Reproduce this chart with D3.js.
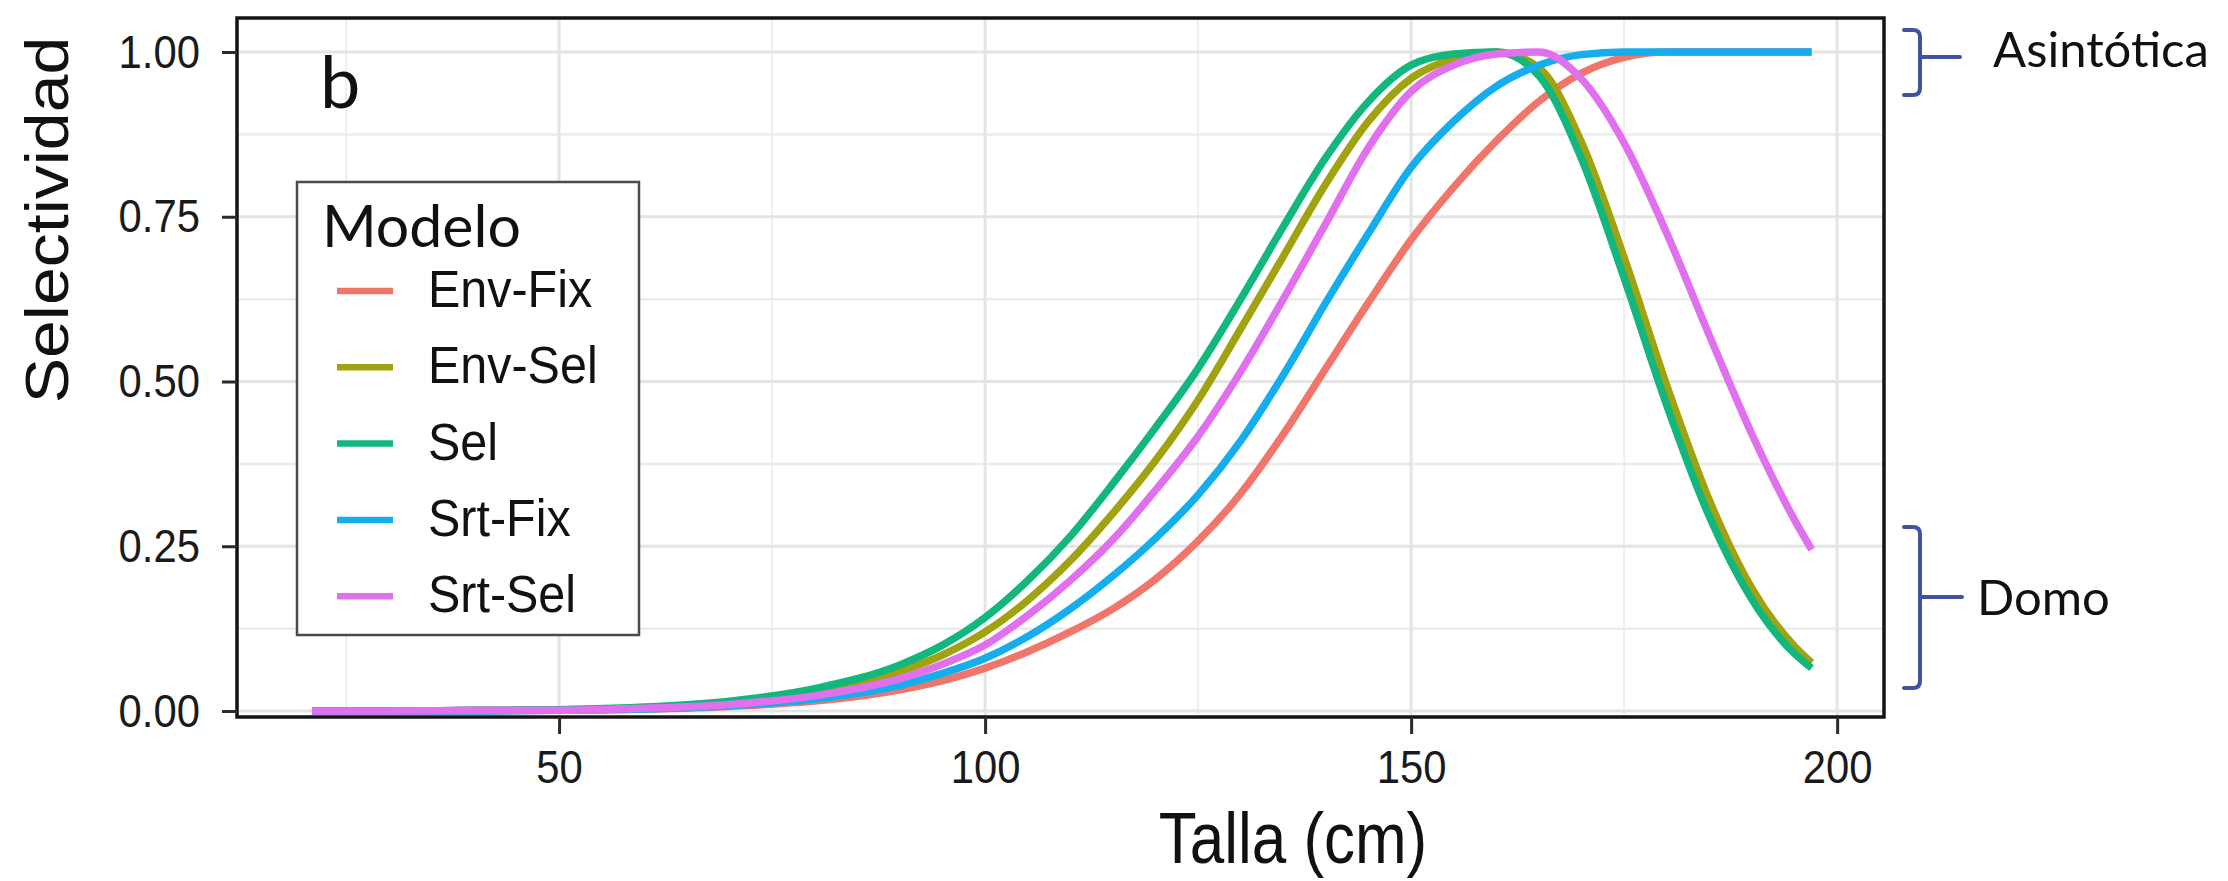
<!DOCTYPE html>
<html>
<head>
<meta charset="utf-8">
<script src="https://cdn.jsdelivr.net/npm/d3@7"></script>
<style>
  html, body { margin: 0; padding: 0; background: #ffffff; }
  svg { display: block; }
</style>
</head>
<body>
<svg id="chart" width="2228" height="881"></svg>
<script>
// Selectivity curves by length for five model variants (panel b)
const tallas = [21, 30, 40, 50, 60, 70, 80, 90, 95, 100, 105, 110, 115, 120, 125, 130,
                135, 140, 145, 150, 155, 160, 165, 170, 175, 180, 185, 190, 195, 197];

const envFix = [0, 0, 0, 0.001, 0.003, 0.007, 0.015, 0.032, 0.046, 0.065, 0.090, 0.120, 0.155, 0.200, 0.258, 0.330,
                0.420, 0.520, 0.620, 0.715, 0.795, 0.865, 0.925, 0.968, 0.992, 1, 1, 1, 1, 1];
const envSel = [0, 0, 0.001, 0.002, 0.005, 0.012, 0.028, 0.060, 0.085, 0.120, 0.168, 0.228, 0.300, 0.380, 0.472, 0.580,
                0.690, 0.800, 0.895, 0.960, 0.990, 1.000, 0.976, 0.863, 0.688, 0.494, 0.320, 0.186, 0.098, 0.073];
const sel    = [0, 0, 0.001, 0.002, 0.006, 0.015, 0.034, 0.070, 0.100, 0.142, 0.198, 0.265, 0.345, 0.430, 0.520, 0.625,
                0.735, 0.840, 0.925, 0.980, 0.997, 1.000, 0.964, 0.838, 0.657, 0.464, 0.295, 0.169, 0.087, 0.065];
const srtFix = [0, 0, 0, 0.001, 0.003, 0.008, 0.018, 0.039, 0.057, 0.080, 0.113, 0.155, 0.205, 0.262, 0.328, 0.410,
                0.510, 0.620, 0.725, 0.825, 0.895, 0.948, 0.980, 0.996, 1, 1, 1, 1, 1, 1];
const srtSel = [0, 0, 0.001, 0.001, 0.004, 0.010, 0.023, 0.049, 0.071, 0.100, 0.145, 0.198, 0.260, 0.335, 0.417, 0.515,
                0.625, 0.740, 0.855, 0.940, 0.980, 0.997, 1.000, 0.959, 0.862, 0.725, 0.570, 0.420, 0.290, 0.245];

const modelos = ["Env-Fix", "Env-Sel", "Sel", "Srt-Fix", "Srt-Sel"];
const colores = ["#F0766C", "#A0A210", "#12B77E", "#14AEEC", "#E070EE"];
const valores = [envFix, envSel, sel, srtFix, srtSel];

const xTicks = [50, 100, 150, 200];
const xMinor = [25, 75, 125, 175];
const yTicks = [0, 0.25, 0.5, 0.75, 1];
const yMinor = [0.125, 0.375, 0.625, 0.875];
const yTickLabels = ["0.00", "0.25", "0.50", "0.75", "1.00"];

const panel = { left: 237, right: 1884, top: 18, bottom: 717 };

const svg = d3.select("#chart");
svg.append("rect").attr("width", 2228).attr("height", 881).attr("fill", "#ffffff");

const x = d3.scaleLinear().domain([12.2, 205.5]).range([panel.left, panel.right]);
const y = d3.scaleLinear().domain([0, 1]).range([711, 52]);

// horizontal compression helper for text
function squeeze(selection, f) {
  selection.each(function () {
    const L = this.getComputedTextLength();
    this.setAttribute("textLength", L * f);
    this.setAttribute("lengthAdjust", "spacingAndGlyphs");
  });
}

// grid
const grid = svg.append("g");
grid.selectAll(".vminor").data(xMinor).join("line")
  .attr("x1", d => x(d)).attr("x2", d => x(d))
  .attr("y1", panel.top).attr("y2", panel.bottom)
  .attr("stroke", "#efefef").attr("stroke-width", 2);
grid.selectAll(".hminor").data(yMinor).join("line")
  .attr("x1", panel.left).attr("x2", panel.right)
  .attr("y1", d => y(d)).attr("y2", d => y(d))
  .attr("stroke", "#ebebeb").attr("stroke-width", 2.5);
grid.selectAll(".vmajor").data(xTicks).join("line")
  .attr("x1", d => x(d)).attr("x2", d => x(d))
  .attr("y1", panel.top).attr("y2", panel.bottom)
  .attr("stroke", "#e4e4e4").attr("stroke-width", 3);
grid.selectAll(".hmajor").data(yTicks).join("line")
  .attr("x1", panel.left).attr("x2", panel.right)
  .attr("y1", d => y(d)).attr("y2", d => y(d))
  .attr("stroke", "#e4e4e4").attr("stroke-width", 3);

// curves
svg.append("clipPath").attr("id", "panelClip").append("rect")
  .attr("x", panel.left).attr("y", panel.top)
  .attr("width", panel.right - panel.left).attr("height", panel.bottom - panel.top);

const line = d3.line()
  .x(d => x(d[0]))
  .y(d => y(d[1]))
  .curve(d3.curveMonotoneX);

const curves = svg.append("g").attr("clip-path", "url(#panelClip)");
modelos.forEach((m, i) => {
  curves.append("path")
    .datum(tallas.map((t, j) => [t, valores[i][j]]))
    .attr("d", line)
    .attr("fill", "none")
    .attr("stroke", colores[i])
    .attr("stroke-width", 7.5)
    .attr("stroke-linecap", "butt")
    .attr("stroke-linejoin", "round");
});

// panel border
svg.append("rect")
  .attr("x", panel.left).attr("y", panel.top)
  .attr("width", panel.right - panel.left).attr("height", panel.bottom - panel.top)
  .attr("fill", "none").attr("stroke", "#141414").attr("stroke-width", 3.5);

// axes
const tickFont = "'Liberation Sans', Arial, sans-serif";
const xAxis = svg.append("g")
  .attr("transform", `translate(0,${panel.bottom})`)
  .call(d3.axisBottom(x).tickValues(xTicks).tickSize(17).tickPadding(16).tickFormat(d3.format("d")));
const yAxis = svg.append("g")
  .attr("transform", `translate(${panel.left},0)`)
  .call(d3.axisLeft(y).tickValues(yTicks).tickSize(15).tickPadding(22).tickFormat((d, i) => yTickLabels[i]));

[xAxis, yAxis].forEach(ax => {
  ax.select(".domain").remove();
  ax.selectAll(".tick line").attr("stroke", "#2b2b2b").attr("stroke-width", 3);
  ax.selectAll(".tick text")
    .attr("fill", "#1a1a1a")
    .style("font-family", tickFont)
    .style("font-size", "47px");
  squeeze(ax.selectAll(".tick text"), 0.89);
});

// axis titles
const xTitle = svg.append("text")
  .attr("x", 1293).attr("y", 863)
  .attr("text-anchor", "middle")
  .style("font-family", tickFont).style("font-size", "72px")
  .attr("fill", "#111")
  .text("Talla (cm)");
squeeze(xTitle, 0.86);

svg.append("text")
  .attr("transform", "translate(68,220) rotate(-90) scale(1,0.9)")
  .attr("text-anchor", "middle")
  .style("font-family", tickFont).style("font-size", "68px")
  .attr("fill", "#111")
  .text("Selectividad");

// panel tag
const labelFont = "Lato, 'Open Sans', sans-serif";
svg.append("text")
  .attr("x", 320).attr("y", 108)
  .style("font-family", labelFont).style("font-size", "72px")
  .attr("fill", "#111")
  .text("b");

// legend
const legend = svg.append("g");
legend.append("rect")
  .attr("x", 297).attr("y", 182).attr("width", 342).attr("height", 453)
  .attr("fill", "#ffffff").attr("stroke", "#4a4a4a").attr("stroke-width", 2.5);
legend.append("text")
  .attr("x", 322).attr("y", 247)
  .style("font-family", labelFont).style("font-size", "59px")
  .attr("fill", "#111")
  .text("Modelo");
const items = legend.selectAll(".item").data(modelos).join("g")
  .attr("transform", (d, i) => `translate(0,${291 + i * 76.3})`);
items.append("line")
  .attr("x1", 337).attr("x2", 393).attr("y1", 0).attr("y2", 0)
  .attr("stroke", (d, i) => colores[i]).attr("stroke-width", 6.5);
const itemText = items.append("text")
  .attr("x", 428).attr("y", 16)
  .style("font-family", tickFont).style("font-size", "51px")
  .attr("fill", "#111")
  .text(d => d);
squeeze(itemText, 0.95);

// curve-type brackets on the right
const bracketColor = "#43529E";
function bracket(top, bottom, mid, stubEnd) {
  const xv = 1920, xs = 1904, r = 7;
  const p = d3.path();
  p.moveTo(xs, top);
  p.lineTo(xv - r, top);
  p.quadraticCurveTo(xv, top, xv, top + r);
  p.lineTo(xv, bottom - r);
  p.quadraticCurveTo(xv, bottom, xv - r, bottom);
  p.lineTo(xs, bottom);
  p.moveTo(xv, mid);
  p.lineTo(stubEnd, mid);
  svg.append("path").attr("d", p.toString())
    .attr("fill", "none").attr("stroke", bracketColor).attr("stroke-width", 4)
    .attr("stroke-linecap", "round");
}
bracket(30, 95, 57, 1960);
bracket(527, 688, 597, 1962);

svg.append("text")
  .attr("x", 1993).attr("y", 67)
  .style("font-family", labelFont).style("font-size", "49px")
  .attr("fill", "#111")
  .text("Asintótica");
svg.append("text")
  .attr("x", 1977).attr("y", 615)
  .style("font-family", labelFont).style("font-size", "49px")
  .attr("fill", "#111")
  .text("Domo");
</script>
</body>
</html>
